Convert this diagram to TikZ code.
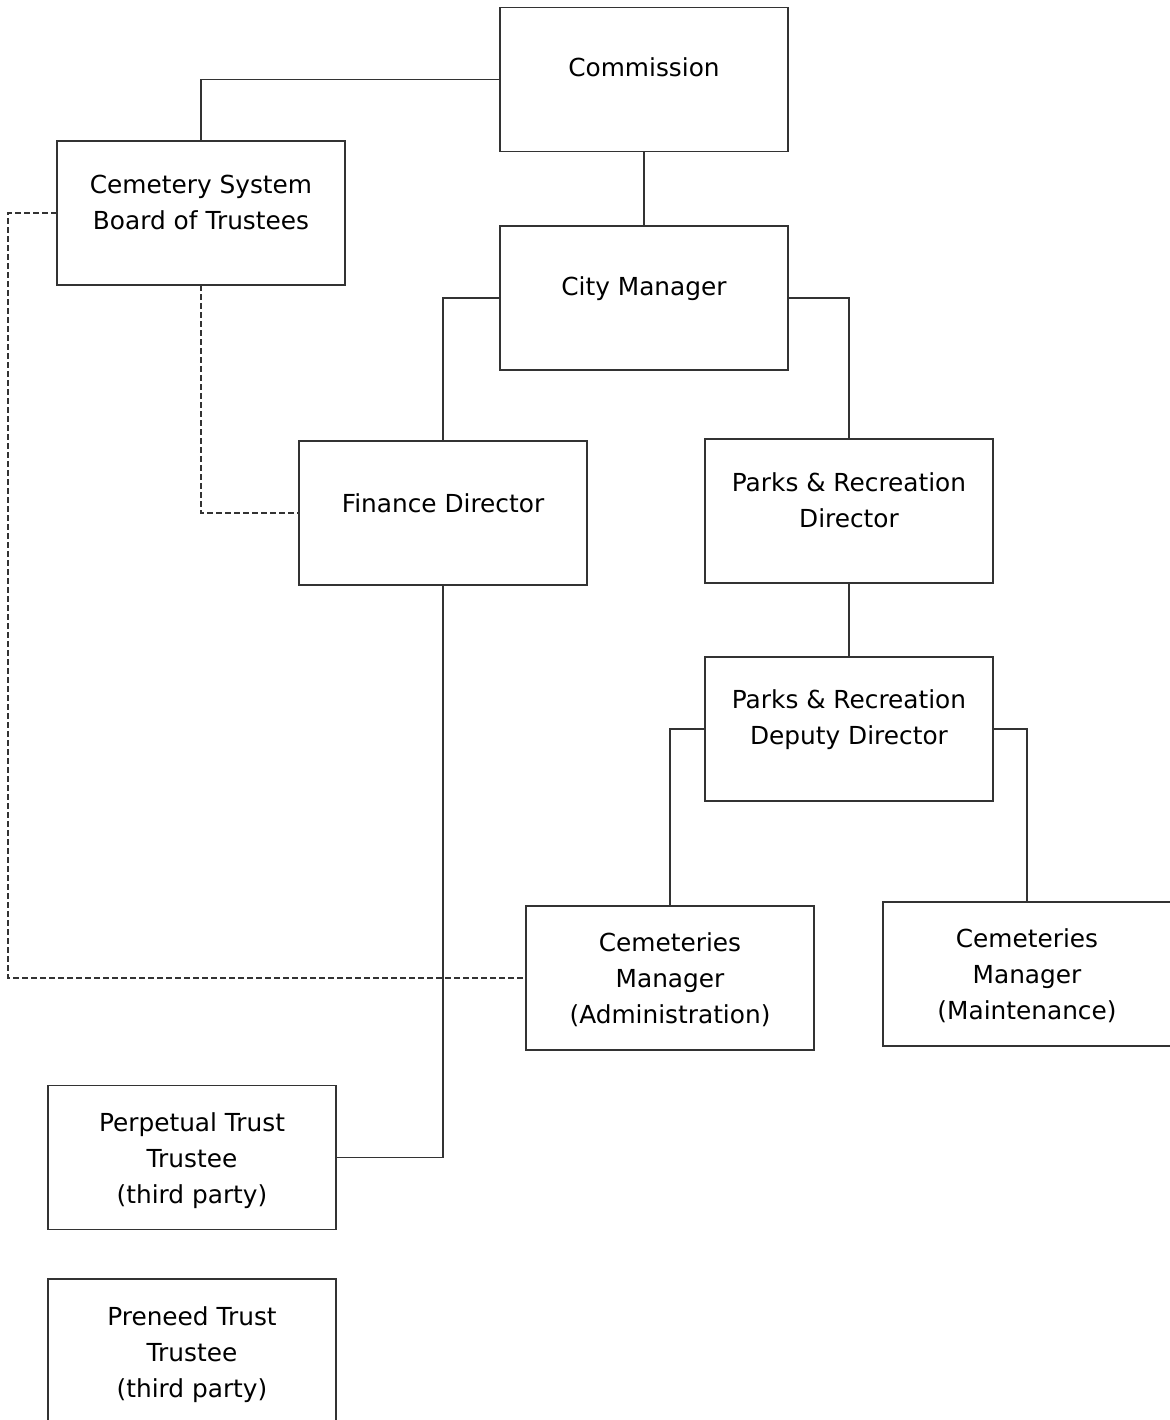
\documentclass[tikz,border=0pt]{standalone}
\usepackage{fontspec}
\setmainfont{DejaVu Sans}
\tikzset{
  office/.style={draw=black!80, line width=0.7pt, minimum width=144pt, minimum height=72pt, inner sep=0pt, outer sep=0pt},
  boxtext/.style={align=center, font=\fontsize{12.4}{18}\selectfont, inner sep=0pt},
  link/.style={draw=black!80, line width=0.65pt},
  advisory/.style={link, dash pattern=on 3pt off 1.5pt}
}
\begin{document}
\begin{tikzpicture}[x=0.5pt,y=-0.5pt]
        \useasboundingbox (0,0) rectangle (1169,1420);
        \node[office] (comm) at (644,79.5) {};
        \node[office] (board) at (201,213) {};
        \node[office] (city) at (644,298) {};
        \node[office] (fin) at (443,513) {};
        \node[office] (parks) at (849,511) {};
        \node[office] (deputy) at (849,729) {};
        \node[office] (admin) at (670,978) {};
        \node[office] (maint) at (1027,974) {};
        \node[office] (perp) at (192,1157.5) {};
        \node[office] (preneed) at (192,1351) {};
        \node[boxtext] (commT) at (644,67) {Commission};
        \node[boxtext] (boardT) at (201,202) {Cemetery System\\Board of Trustees};
        \node[boxtext] (cityT) at (644,289) {City Manager};
        \node[boxtext] (finT) at (443,503) {Finance Director};
        \node[boxtext] (parksT) at (849,500) {Parks \& Recreation\\Director};
        \node[boxtext] (deputyT) at (849,720) {Parks \& Recreation\\Deputy Director};
        \node[boxtext] (adminT) at (670,980) {Cemeteries\\Manager\\(Administration)};
        \node[boxtext] (maintT) at (1027,976) {Cemeteries\\Manager\\(Maintenance)};
        \node[boxtext] (perpT) at (192,1161) {Perpetual Trust\\Trustee\\(third party)};
        \node[boxtext] (preneedT) at (192,1355) {Preneed Trust\\Trustee\\(third party)};
        \draw[link] (comm.west)-|(board.north);
        \draw[link] (comm.south)--(city.north);
        \draw[link] (city.west)-|(fin.north);
        \draw[link] (city.east)-|(parks.north);
        \draw[link] (parks.south)--(deputy.north);
        \draw[link] (deputy.west)-|(admin.north);
        \draw[link] (deputy.east)-|(maint.north);
        \draw[link] (fin.south)|-(perp.east);
        \draw[advisory] (board.south)|-(fin.west);
        \draw[advisory] (board.west)--++(-49,0)|-(admin.west);
\end{tikzpicture}
\end{document}
